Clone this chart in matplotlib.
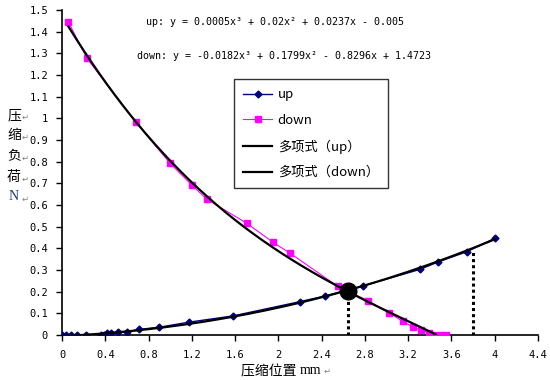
import numpy as np
import matplotlib
matplotlib.use("Agg")
import matplotlib.pyplot as plt
from matplotlib.lines import Line2D

plt.rcParams['font.family'] = ['Noto Sans CJK SC', 'DejaVu Sans']

# ---- data ----
up_x = [0, 0.04, 0.08, 0.135, 0.22, 0.36, 0.39, 0.42, 0.45, 0.515, 0.6, 0.715,
        0.9, 1.17, 1.58, 2.2, 2.43, 2.78, 3.31, 3.48, 3.74, 4.0]
up_y = [0, 0, 0, 0, 0, 0, 0, 0.008, 0.007, 0.012, 0.015, 0.026,
        0.036, 0.059, 0.088, 0.154, 0.18, 0.226, 0.303, 0.338, 0.384, 0.446]

down_x = [0.06, 0.23, 0.68, 1.0, 1.2, 1.34, 1.71, 1.95, 2.11, 2.55, 2.83, 3.02,
          3.15, 3.24, 3.32, 3.39, 3.45, 3.5, 3.55]
down_y = [1.444, 1.277, 0.984, 0.792, 0.692, 0.626, 0.515, 0.428, 0.377, 0.224,
          0.158, 0.103, 0.063, 0.038, 0.023, 0.011, 0, 0, 0]

# polynomial trendline coefficients (highest power first)
up_coef = [0.0005, 0.02, 0.0237, -0.005]
down_coef = [-0.0182, 0.1799, -0.8296, 1.4723]

cross_x, cross_y = 2.645, 0.205
marker_line_x, marker_line_y = 3.8, 0.39

x_ticks = [0, 0.4, 0.8, 1.2, 1.6, 2, 2.4, 2.8, 3.2, 3.6, 4, 4.4]
x_tick_labels = ["0", "0.4", "0.8", "1.2", "1.6", "2", "2.4", "2.8", "3.2", "3.6", "4", "4.4"]
y_ticks = [0, 0.1, 0.2, 0.3, 0.4, 0.5, 0.6, 0.7, 0.8, 0.9, 1, 1.1, 1.2, 1.3, 1.4, 1.5]
y_tick_labels = ["0", "0.1", "0.2", "0.3", "0.4", "0.5", "0.6", "0.7", "0.8", "0.9",
                 "1", "1.1", "1.2", "1.3", "1.4", "1.5"]

eq_up = "up: y = 0.0005x³ + 0.02x² + 0.0237x - 0.005"
eq_down = "down: y = -0.0182x³ + 0.1799x² - 0.8296x + 1.4723"
legend_labels = ["up", "down", "多项式（up）", "多项式（down）"]
ylabel_chars = ["压", "缩", "负", "荷", "N"]
xlabel_text = "压缩位置 mm"

# ---- figure ----
fig = plt.figure(figsize=(5.5, 3.8), dpi=100)
ax = fig.add_axes([62/550, 1-335/380, (538-62)/550, (335-10)/380])

mono = ['DejaVu Sans Mono']

ax.plot(up_x, up_y, color='#000080', lw=1.0, marker='D', markersize=3.5, zorder=3)
ax.plot(down_x, down_y, color='#FF00FF', lw=0.8, marker='s', markersize=5, zorder=3)

xu = np.linspace(min(up_x), max(up_x), 300)
ax.plot(xu, np.polyval(up_coef, xu), color='black', lw=1.6, zorder=4)
xd = np.linspace(min(down_x), max(down_x), 300)
yd = np.polyval(down_coef, xd)
ax.plot(xd[yd >= 0], yd[yd >= 0], color='black', lw=1.6, zorder=4)

ax.plot([cross_x], [cross_y], 'o', color='black', markersize=12, zorder=5)
ax.plot([cross_x, cross_x], [0, cross_y], color='black', lw=2.2, linestyle=(0, (1, 1)), zorder=2)
ax.plot([marker_line_x, marker_line_x], [0, marker_line_y], color='black', lw=2.2,
        linestyle=(0, (1, 1)), zorder=2)

ax.set_xlim(0, 4.4)
ax.set_ylim(0, 1.5)
ax.set_xticks(x_ticks)
ax.set_xticklabels(x_tick_labels, fontfamily=mono, fontsize=7.5)
ax.set_yticks(y_ticks)
ax.set_yticklabels(y_tick_labels, fontfamily=mono, fontsize=7.5)
ax.tick_params(axis='x', direction='out', length=4, width=1, pad=7)
ax.tick_params(axis='y', direction='out', length=4, width=1, pad=6)
for s in ['top', 'right']:
    ax.spines[s].set_visible(False)
for s in ['left', 'bottom']:
    ax.spines[s].set_linewidth(1.2)

fig.text(275/550, 1-22/380, eq_up, fontfamily=mono, fontsize=7.2, ha='center', va='center')
fig.text(284/550, 1-56/380, eq_down, fontfamily=mono, fontsize=7.2, ha='center', va='center')

handles = [
    Line2D([], [], color='#000080', lw=1.0, marker='D', markersize=3.5),
    Line2D([], [], color='#FF00FF', lw=0.8, marker='s', markersize=5),
    Line2D([], [], color='black', lw=1.6),
    Line2D([], [], color='black', lw=1.6),
]
leg = fig.legend(handles, legend_labels, loc='upper left',
                 bbox_to_anchor=(234/550, 1-79/380), fontsize=9.5,
                 frameon=True, fancybox=False, edgecolor='black',
                 labelspacing=0.95, handlelength=2.2, handletextpad=0.4,
                 borderpad=0.7, borderaxespad=0)
leg.get_frame().set_linewidth(1.0)

ys = [115, 135, 156.5, 177, 197]
for ch, yy in zip(ylabel_chars, ys):
    col = '#1f3a7a' if ch == 'N' else 'black'
    fam = ['Liberation Serif'] if ch == 'N' else ['Noto Sans CJK SC', 'DejaVu Sans']
    fig.text(14/550, 1-yy/380, ch, fontsize=10, ha='center', va='center', color=col, family=fam)
    fig.text(25/550, 1-(yy+2)/380, "↵", fontsize=6, ha='center', va='center', color='#808080',
             family=['DejaVu Sans'])

fig.text(300/550, 1-371/380, "压缩位置 ", fontsize=10, ha='right', va='center')
fig.text(300/550, 1-371/380, "mm", fontsize=10, ha='left', va='center', family=['Liberation Serif'])
fig.text(324/550, 1-371/380, "↵", fontsize=6, ha='left', va='center', color='#808080',
         family=['DejaVu Sans'])

fig.savefig("out.png", dpi=100)
